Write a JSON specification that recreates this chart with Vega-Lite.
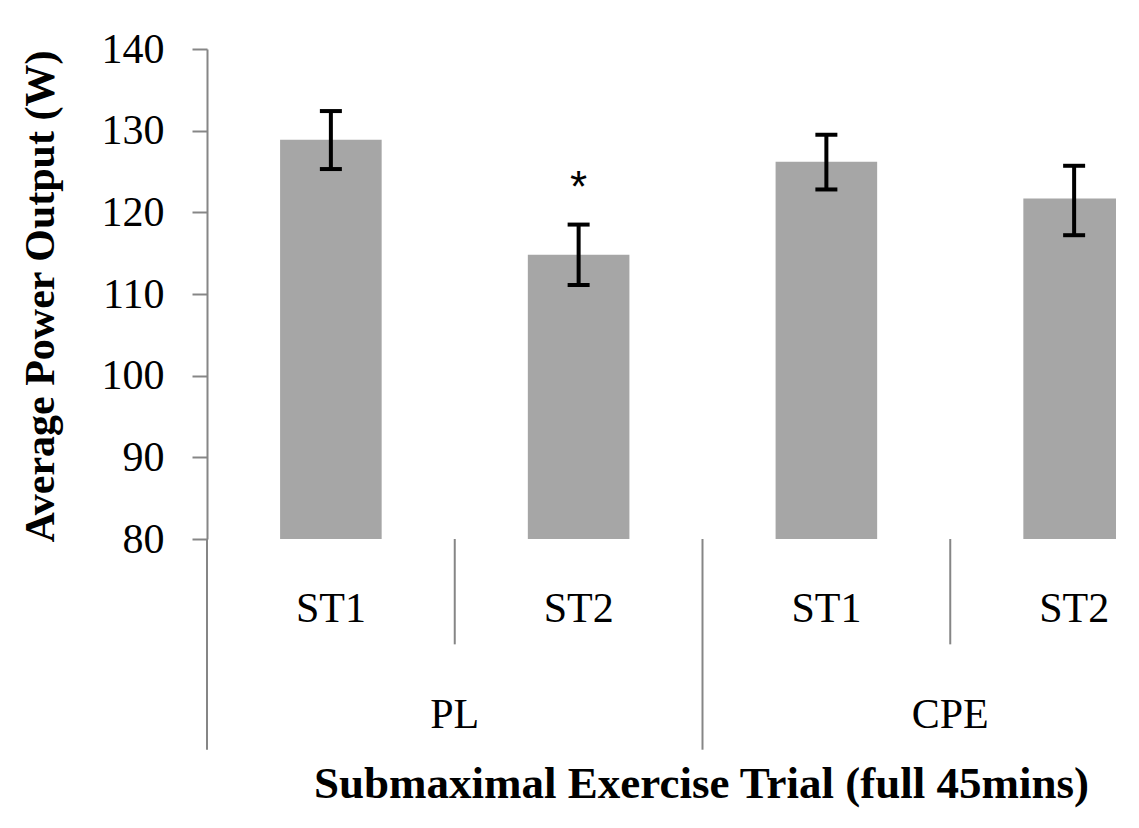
{
  "$schema": "https://vega.github.io/schema/vega-lite/v6.json",
  "autosize": {"type": "none"},
  "padding": {"left": 207, "top": 49, "right": 23, "bottom": 289},
  "width": 909,
  "height": 490,
  "background": "white",
  "config": {
    "font": "Liberation Serif",
    "view": {"stroke": null}
  },
  "data": {
    "values": [
      {"group": "PL", "trial": "ST1", "key": "PL-ST1", "mean": 128.9, "lo": 125.3, "hi": 132.4, "sig": ""},
      {"group": "PL", "trial": "ST2", "key": "PL-ST2", "mean": 114.8, "lo": 111.1, "hi": 118.5, "sig": "*"},
      {"group": "CPE", "trial": "ST1", "key": "CPE-ST1", "mean": 126.2, "lo": 122.8, "hi": 129.5, "sig": ""},
      {"group": "CPE", "trial": "ST2", "key": "CPE-ST2", "mean": 121.7, "lo": 117.2, "hi": 125.7, "sig": ""}
    ]
  },
  "encoding": {
    "x": {
      "field": "key",
      "type": "nominal",
      "sort": null,
      "scale": {"paddingInner": 0, "paddingOuter": 0, "range": [0, 991]},
      "axis": {
        "domain": false,
        "ticks": false,
        "labelAngle": 0,
        "labelExpr": "split(datum.label, '-')[1]",
        "labelFont": "Liberation Serif",
        "labelFontSize": 42,
        "labelColor": "black",
        "labelBaseline": "alphabetic",
        "labelPadding": 82,
        "title": "Submaximal Exercise Trial (full 45mins)",
        "titleFont": "Liberation Serif",
        "titleFontWeight": "bold",
        "titleFontSize": 45,
        "titleColor": "black",
        "titleBaseline": "alphabetic",
        "titleX": 494,
        "titleY": 258
      }
    }
  },
  "layer": [
    {
      "mark": {"type": "bar", "color": "#a6a6a6", "width": {"band": 0.41}, "clip": true},
      "encoding": {
        "y": {
          "field": "mean",
          "type": "quantitative",
          "scale": {"domain": [80, 140], "nice": false, "zero": false},
          "axis": {
            "values": [80, 90, 100, 110, 120, 130, 140],
            "grid": false,
            "domainColor": "#868686",
            "domainWidth": 2,
            "tickColor": "#868686",
            "tickWidth": 2,
            "tickSize": 15,
            "labelPadding": 28,
            "labelFont": "Liberation Serif",
            "labelFontSize": 42,
            "labelColor": "black",
            "title": "Average Power Output (W)",
            "titleFont": "Liberation Serif",
            "titleFontWeight": "bold",
            "titleFontSize": 42,
            "titleColor": "black",
            "titleBaseline": "alphabetic",
            "titleX": -154,
            "titleY": 247
          }
        }
      }
    },
    {
      "mark": {"type": "rule", "color": "#868686", "strokeWidth": 2},
      "encoding": {"y": {"datum": 80}}
    },
    {
      "transform": [{"filter": "datum.trial === 'ST1'"}],
      "mark": {"type": "rule", "color": "#868686", "strokeWidth": 2},
      "encoding": {
        "x": {"field": "key", "type": "nominal", "sort": null, "bandPosition": 0},
        "y": {"datum": 80},
        "y2": {"datum": 54.2}
      }
    },
    {
      "transform": [{"filter": "datum.trial === 'ST2'"}],
      "mark": {"type": "rule", "color": "#868686", "strokeWidth": 2},
      "encoding": {
        "x": {"field": "key", "type": "nominal", "sort": null, "bandPosition": 0},
        "y": {"datum": 80},
        "y2": {"datum": 67.1}
      }
    },
    {
      "transform": [{"filter": "datum.trial === 'ST2'"}],
      "mark": {"type": "text", "font": "Liberation Serif", "fontSize": 42, "color": "black", "baseline": "alphabetic", "align": "center"},
      "encoding": {
        "x": {"field": "key", "type": "nominal", "sort": null, "bandPosition": 0},
        "y": {"datum": 56.9},
        "text": {"field": "group"}
      }
    },
    {
      "mark": {"type": "rule", "color": "black", "strokeWidth": 4},
      "encoding": {
        "y": {"field": "lo", "type": "quantitative"},
        "y2": {"field": "hi"}
      }
    },
    {
      "mark": {"type": "tick", "color": "black", "size": 22, "thickness": 4, "opacity": 1},
      "encoding": {"y": {"field": "lo", "type": "quantitative"}}
    },
    {
      "mark": {"type": "tick", "color": "black", "size": 22, "thickness": 4, "opacity": 1},
      "encoding": {"y": {"field": "hi", "type": "quantitative"}}
    },
    {
      "mark": {"type": "text", "font": "Liberation Sans", "fontSize": 44, "color": "black", "baseline": "alphabetic", "align": "center", "dy": -23},
      "encoding": {
        "y": {"field": "hi", "type": "quantitative"},
        "text": {"field": "sig"}
      }
    }
  ]
}
